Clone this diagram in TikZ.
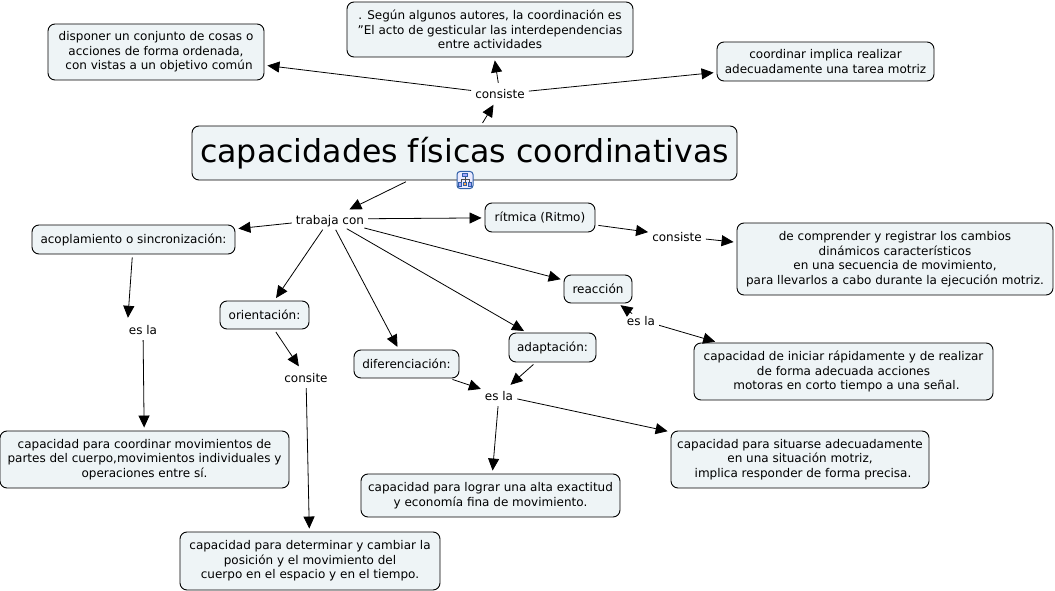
\documentclass[tikz,border=0pt]{standalone}
\usepackage{fontspec}
\setmainfont{DejaVu Sans}
\usetikzlibrary{arrows.meta}
\newcommand{\figuresize}{1pt}
\newcommand{\sangria}{\hspace*{6pt}}
\definecolor{boxfill}{HTML}{EEF4F6}
\definecolor{iconblue}{HTML}{2F5FA8}
\tikzset{
	concept/.style={draw=black, fill=boxfill, rounded corners=7pt, line width=0.9pt, align=center, inner sep=0pt, font=\fontsize{12}{14.5}\selectfont},
	phrase/.style={inner sep=1pt, fill=none, text height=12pt, text depth=2pt, font=\fontsize{12}{14.5}\selectfont},
	link/.style={line width=0.8pt, -{Triangle[length=12pt,width=11pt]}, shorten >=3pt, shorten <=3pt},
	iconbit/.style={draw=iconblue, line width=0.6pt}
}
\newcommand{\makeconcept}[6]{
	\node[concept, minimum width=#4*\figuresize, minimum height=#5*\figuresize] (#1) at (#2,#3) {#6};
}

\begin{document}
\begin{tikzpicture}[x=\figuresize,y=-\figuresize]
	\useasboundingbox (0,0) rectangle (1055,591);

	\makeconcept{objetivo}{156}{52}{216}{56}{disponer un conjunto de cosas o\\acciones de forma ordenada,\\\sangria con vistas a un objetivo común}
	\makeconcept{autores}{490}{29.5}{286}{55}{. Según algunos autores, la coordinación es\\"El acto de gesticular las interdependencias\\entre actividades}
	\makeconcept{tarea}{825.5}{61.5}{217}{39}{coordinar implica realizar\\adecuadamente una tarea motriz}
	\makeconcept{capacidades}{464.5}{153}{545}{54}{\fontsize{31.6}{40}\selectfont capacidades físicas coordinativas}
	\makeconcept{ritmica}{540}{217.5}{110}{29}{rítmica (Ritmo)}
	\makeconcept{cambios}{895}{259}{316}{72}{de comprender y registrar los cambios\\dinámicos característicos\\en una secuencia de movimiento,\\para llevarlos a cabo durante la ejecución motriz.}
	\makeconcept{acoplamiento}{133.5}{239.5}{203}{29}{acoplamiento o sincronización:}
	\makeconcept{reaccion}{598}{289}{68}{28}{reacción}
	\makeconcept{orientacion}{264.5}{315}{89}{28}{orientación:}
	\makeconcept{diferenciacion}{406.5}{364}{105}{28}{diferenciación:}
	\makeconcept{adaptacion}{552.5}{347.5}{87}{29}{adaptación:}
	\makeconcept{iniciar}{843.5}{371.5}{299}{57}{capacidad de iniciar rápidamente y de realizar\\de forma adecuada acciones\\\sangria motoras en corto tiempo a una señal.}
	\makeconcept{partes}{144.5}{459.5}{289}{57}{capacidad para coordinar movimientos de\\partes del cuerpo,movimientos individuales y\\operaciones entre sí.}
	\makeconcept{exactitud}{490.5}{495.5}{259}{43}{capacidad para lograr una alta exactitud\\y economía fina de movimiento.}
	\makeconcept{situarse}{800}{459.5}{258}{57}{capacidad para situarse adecuadamente\\en una situación motriz,\\\sangria implica responder de forma precisa.}
	\makeconcept{posicion}{310}{561}{260}{58}{capacidad para determinar y cambiar la\\posición y el movimiento del\\cuerpo en el espacio y en el tiempo.}

	\node[phrase] (consisteA) at (500,94) {consiste};
	\node[phrase] (trabaja) at (330,219) {trabaja con};
	\node[phrase] (consisteB) at (677,236) {consiste};
	\node[phrase] (eslaA) at (641,320) {es la};
	\node[phrase] (eslaB) at (143,329) {es la};
	\node[phrase] (consite) at (306,377) {consite};
	\node[phrase] (eslaC) at (499,395) {es la};

	% icon under the main box
	\node[draw=iconblue, fill=blue!8!white, rounded corners=3pt, line width=1pt, minimum width=16pt, minimum height=17pt, inner sep=0pt] (icono) at (465,180) {};
	\draw[black!70, line width=0.5pt] (465,176) -- (465,179) (461,182) -- (461,179) -- (469,179) -- (469,182) (465,179) -- (465,182);
	\filldraw[iconbit, fill=blue!35!white] (462.5,173.5) rectangle (467.5,176.5);
	\filldraw[iconbit, fill=orange!70!white] (463.5,182) rectangle (466.5,185);
	\filldraw[iconbit, fill=blue!35!white] (458.5,182) rectangle (461.5,186);
	\filldraw[iconbit, fill=blue!35!white] (468.5,182) rectangle (471.5,186);

	\draw[link] (capacidades) -- (consisteA);
	\draw[link] (consisteA) -- (objetivo);
	\draw[link] (consisteA) -- (autores);
	\draw[link] (consisteA) -- (tarea);
	\draw[link] (capacidades) -- (trabaja);
	\draw[link] (trabaja) -- (ritmica);
	\draw[link] (trabaja) -- (acoplamiento);
	\draw[link] (trabaja) -- (orientacion);
	\draw[link] (trabaja) -- (diferenciacion);
	\draw[link] (trabaja) -- (adaptacion);
	\draw[link] (trabaja) -- (reaccion);
	\draw[link] (ritmica) -- (consisteB);
	\draw[link] (consisteB) -- (cambios);
	\draw[link] (eslaA) -- (reaccion);
	\draw[link] (eslaA) -- (iniciar.167);
	\draw[link] (acoplamiento) -- (eslaB.north west);
	\draw[link] (eslaB) -- (partes);
	\draw[link] (orientacion) -- (consite);
	\draw[link] (consite) -- (posicion);
	\draw[link] (diferenciacion) -- (eslaC);
	\draw[link] (adaptacion) -- (eslaC);
	\draw[link] (eslaC) -- (exactitud);
	\draw[link] (eslaC) -- (situarse);

\end{tikzpicture}
\end{document}
